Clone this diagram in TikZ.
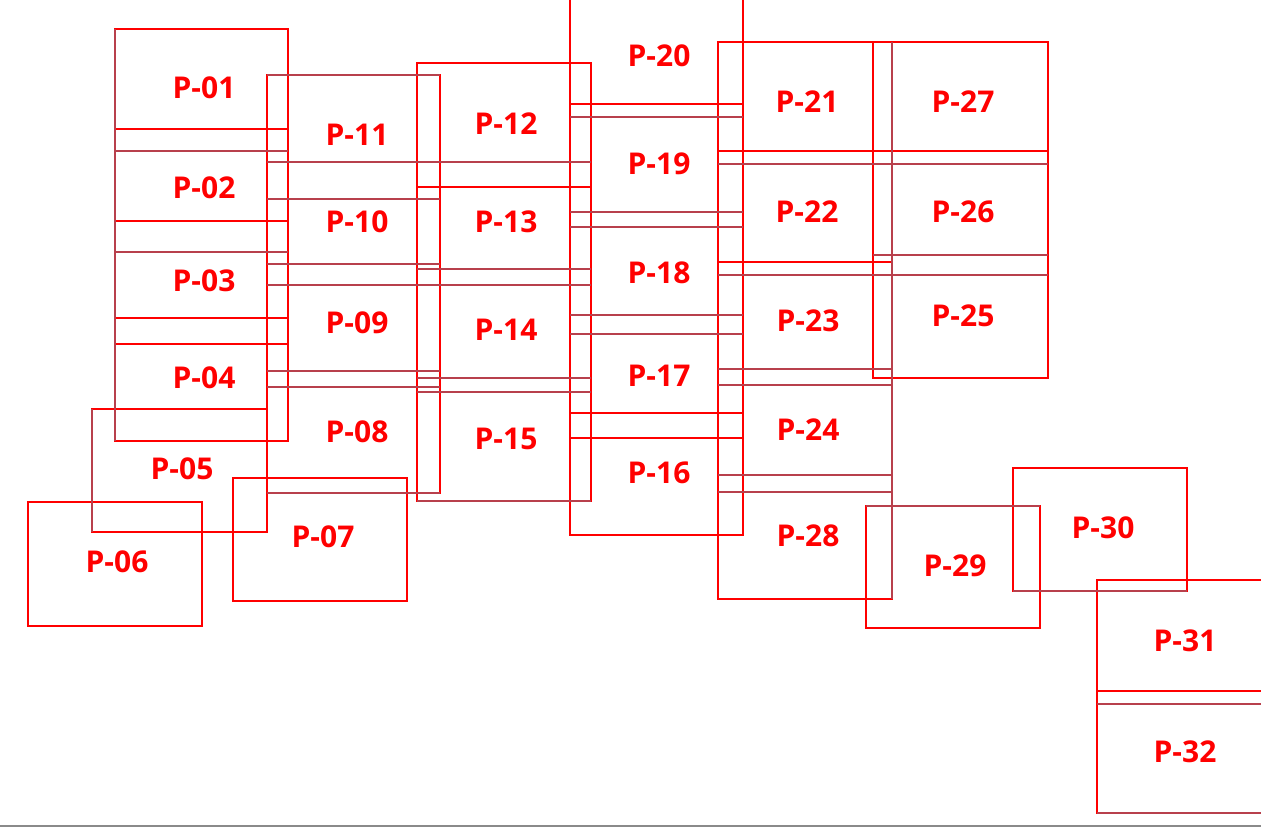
\documentclass[tikz,border=0pt]{standalone}
\usepackage{fontspec}
\setsansfont{Open Sans}
\usepackage{xcolor}
\definecolor{PlotRed}{HTML}{FF0000}
\definecolor{EdgeDark}{HTML}{B8404C}
\definecolor{RuleGray}{HTML}{8A8A8A}
\usepackage{tikz}

\begin{document}
\begin{tikzpicture}[x=1pt, y=-1pt,
    plotedge/.style={line width=1.5pt, color=PlotRed},
    darkedge/.style={line width=1.5pt, color=EdgeDark},
    plotlabel/.style={font=\sffamily\bfseries\fontsize{30pt}{30pt}\selectfont, text=PlotRed, inner sep=0pt}]
    \useasboundingbox (0,0) rectangle (1261,827);
    \clip (0,0) rectangle (1261,827);

    % Draw column frames and single plots
    \foreach \xa/\ya/\xb/\yb in {115/29/288/441, 267/75/440/493, 417/63/591/501,
                                 570/-10/743/535, 718/42/892/599, 873/42/1048/378,
                                 92/409/267/532, 28/502/202/626, 233/478/407/601,
                                 866/506/1040/628, 1013/468/1187/591, 1097/580/1280/813} {
      \draw[plotedge] (\xa,\ya) rectangle (\xb,\yb);
    }

    % Red dividers
    \foreach \xa/\xb/\yy in {115/288/129, 115/288/221, 115/288/318, 115/288/344,
                             417/591/187, 570/743/104, 570/743/413, 570/743/438,
                             718/1048/151, 718/892/262, 1097/1280/691} {
      \draw[plotedge] (\xa,\yy) -- (\xb,\yy);
    }

    % Dark dividers
    \foreach \xa/\xb/\yy in {115/288/151, 115/288/252,
                             267/440/75, 267/591/162, 267/440/199, 267/440/264,
                             267/591/285, 267/440/371, 267/440/387, 267/440/493,
                             417/591/269, 417/591/378, 417/591/392, 417/591/501,
                             570/743/117, 570/743/212, 570/743/227, 570/743/315, 570/743/334,
                             718/1048/164, 718/1048/275, 718/892/369, 718/892/385,
                             718/892/475, 718/892/492, 873/1048/255,
                             866/1040/506, 1013/1187/591, 1097/1280/704, 1097/1280/813} {
      \draw[darkedge] (\xa,\yy) -- (\xb,\yy);
    }
    \foreach \xx/\ya/\yb in {115/29/441, 892/42/599, 92/409/532} {
      \draw[darkedge] (\xx,\ya) -- (\xx,\yb);
    }

    % Plot labels
    \foreach \n/\lx/\ly in {01/204/88, 02/204/188, 03/204/281, 04/204/378, 05/182/469,
                            06/117/562, 07/323/537, 08/357/432, 09/357/323, 10/357/222,
                            11/357/135, 12/506/124, 13/506/222, 14/506/330, 15/506/439,
                            16/659/473, 17/659/376, 18/659/273, 19/659/164, 20/659/56,
                            21/807/102, 22/807/212, 23/808/321, 24/808/430, 25/963/316,
                            26/963/212, 27/963/102, 28/808/536, 29/955/566, 30/1103/528,
                            31/1185/641, 32/1185/752} {
      \node[plotlabel] (p\n) at (\lx,\ly) {P-\n};
    }

    % Bottom rule
    \draw[line width=1.5pt, color=RuleGray] (0,826) -- (1261,826);
\end{tikzpicture}
\end{document}
